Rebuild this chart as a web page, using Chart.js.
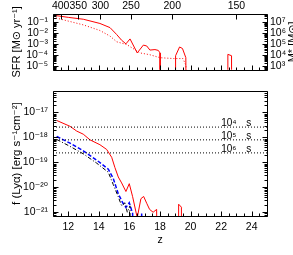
<!DOCTYPE html>
<html><head><meta charset="utf-8">
<script src="https://cdn.jsdelivr.net/npm/chart.js@4.4.1/dist/chart.umd.min.js"></script>
<style>
html,body{margin:0;padding:0;background:#fff;width:293px;height:255px;overflow:hidden}
#top{position:absolute;left:0;top:0;width:293px;height:81px}
#bot{position:absolute;left:0;top:80px;width:293px;height:175px}
</style></head><body>
<div id="top"><canvas id="c1"></canvas></div>
<div id="bot"><canvas id="c2"></canvas></div>
<script>
// ---------- data ----------
const zMin = 11, zMax = 25;
const zTickValues = [12, 14, 16, 18, 20, 22, 24];
const ageLabels = ['400', '350', '300', '250', '200', '150'];
const ageTickZ = [11.5, 12.65, 14.1, 16.1, 18.8, 23.0];
const sfrTicks = [1e-5, 1e-4, 1e-3, 1e-2, 1e-1];
const sfrTickLabels = ['10⁻⁵', '10⁻⁴', '10⁻³', '10⁻²', '10⁻¹'];
const massTicks = [1e3, 1e4, 1e5, 1e6, 1e7];
const massTickLabels = ['10³', '10⁴', '10⁵', '10⁶', '10⁷'];
const fluxTicks = [1e-21, 1e-20, 1e-19, 1e-18, 1e-17];
const fluxTickLabels = ['10⁻²¹', '10⁻²⁰', '10⁻¹⁹', '10⁻¹⁸', '10⁻¹⁷'];
const exposureLabels = ['10⁴ s', '10⁵ s', '10⁶ s'];
const fluxLimits = [2.6e-18, 8e-19, 2.4e-19];

// SFR, solid red
const zSfr   = [11.2, 12.0, 12.98, 14.07, 14.73, 15.17, 15.49, 15.77, 16.04, 16.51, 16.91, 17.13, 17.34, 17.67, 17.89, 18.0, 18.01, 18.99, 19.02, 19.28, 19.47, 19.69, 19.8, 22.42, 22.44, 22.68, 22.74];
const sfrSolid = [0.36, 0.25, 0.17, 0.071, 0.030, 0.0071, 0.0022, 0.00105, 0.0029, 0.00016, 0.00081, 0.00068, 0.00029, 0.00032, 0.00027, 0.00016, 0, 0, 9e-5, 5.5e-4, 4e-4, 6e-5, 0, 0, 1.2e-4, 9e-5, 0];
// SFR, dotted red
const zSfrDot = [11.2, 12.98, 14.07, 14.73, 15.17, 15.82, 16.7, 17.34, 18.0, 18.9, 19.5, 19.7, 19.83];
const sfrDotted = [0.22, 0.053, 0.0166, 0.0052, 0.0016, 0.00091, 1.6e-4, 1.1e-4, 6e-5, 5e-5, 5e-5, 1.2e-5, 0];
// Lya flux, solid red
const zLya = [11.24, 12.11, 12.55, 12.98, 13.42, 14.07, 14.51, 14.84, 15.05, 15.27, 15.49, 15.77, 15.99, 16.21, 16.51, 16.75, 16.93, 17.13, 17.32, 17.55, 17.78, 17.98, 19.12, 19.22, 19.4, 19.56];
const lyaRed = [4.8e-18, 2.8e-18, 1.8e-18, 1.35e-18, 8e-19, 5.1e-19, 3.3e-19, 1.6e-19, 6.2e-20, 2.6e-20, 1.5e-20, 6.8e-21, 1.4e-20, 4.2e-21, 6e-22, 3.5e-21, 4.3e-21, 2.3e-21, 1.3e-21, 1.0e-21, 1.3e-21, 0, 0, 2.1e-21, 1.6e-21, 0];
// Lya flux, black dash-dot
const zBlack = [11.24, 12.11, 12.98, 13.86, 14.62, 14.94, 15.27, 15.49, 15.71, 15.86, 16.04, 16.15];
const lyaBlack = [8.3e-19, 4.4e-19, 2.2e-19, 9.3e-20, 4e-20, 1.3e-20, 4.2e-21, 1.8e-21, 2.4e-21, 1e-21, 1.8e-21, 0];
// Lya flux, blue dashed
const zBlue = [11.24, 12.11, 12.98, 13.86, 14.62, 14.94, 15.27, 15.56, 15.77, 15.99, 16.21, 16.3, 16.7, 16.8, 16.9];
const lyaBlue = [1.1e-18, 5.9e-19, 2.9e-19, 1.23e-19, 5.3e-20, 2.3e-20, 5.5e-21, 2.4e-21, 1.55e-21, 2.4e-21, 8.9e-22, 0, 0, 9e-22, 0];

// ---------- helpers ----------
const FONT = "'Liberation Sans', Arial, 'DejaVu Sans', sans-serif";
Chart.defaults.color = '#000';
Chart.defaults.font.family = FONT;
Chart.defaults.font.size = 10;
const FLOOR = 1e-40; // zero shown below the log axis
const pts = (xs, ys) => xs.map((x, i) => ({x: x, y: ys[i] > 0 ? ys[i] : FLOOR}));

function logMinor(min, max) {
  const out = [];
  for (let d = Math.floor(Math.log10(min)); d <= Math.ceil(Math.log10(max)); d++) {
    for (let m = 1; m <= 9; m++) {
      const v = m * Math.pow(10, d);
      if (v >= min && v <= max) out.push({v: v, major: m === 1});
    }
  }
  return out;
}

const framePlugin = {
  id: 'frameTicks',
  afterDraw(chart) {
    const o = chart.options.plugins.frameTicks || {};
    const {ctx, chartArea: a, scales} = chart;
    ctx.save();
    ctx.strokeStyle = '#000';
    ctx.lineWidth = 1;
    const line = (x1, y1, x2, y2) => { ctx.beginPath(); ctx.moveTo(x1, y1); ctx.lineTo(x2, y2); ctx.stroke(); };
    const L = Math.round(a.left) + 0.5, R = Math.round(a.right) + 0.5;
    const T = Math.round(a.top) + 0.5, B = Math.round(a.bottom) + 0.5;
    line(L, T, R, T); line(L, B, R, B); line(L, T, L, B); line(R, T, R, B);
    const xs = scales.x;
    for (let v = zMin; v <= zMax + 1e-9; v += 0.5) {
      const px = Math.round(xs.getPixelForValue(v)) + 0.5;
      const len = (v % 2 === 0) ? 5 : 3;
      line(px, B, px, B - len);
      if (o.topZ) line(px, T, px, T + len);
    }
    if (o.ages) {
      ageTickZ.forEach(v => { const px = Math.round(xs.getPixelForValue(v)) + 0.5; line(px, T, px, T + 5); });
    }
    const ys = scales.y;
    logMinor(ys.min, ys.max).forEach(t => {
      const py = Math.round(ys.getPixelForValue(t.v)) + 0.5;
      const len = t.major ? 5 : 3;
      line(L, py, L + len, py);
      line(R, py, R - len, py);
    });
    ctx.restore();
  }
};

const textPlugin = {
  id: 'extraText',
  afterDraw(chart) {
    const o = chart.options.plugins.extraText || {};
    const {ctx, scales} = chart;
    ctx.save();
    ctx.fillStyle = '#000';
    ctx.font = '10px ' + FONT;
    if (o.limits) {
      ctx.textAlign = 'left';
      ctx.textBaseline = 'alphabetic';
      fluxLimits.forEach((f, i) => {
        const x = scales.x.getPixelForValue(22.0);
        const y = scales.y.getPixelForValue(f) - 1;
        const parts = exposureLabels[i].split(' ');
        ctx.fillText(parts[0], x, y);
        ctx.fillText(parts[1], x + 25, y);
      });
    }
    if (o.rightTitle) {
      const a = chart.chartArea;
      ctx.translate(296, (a.top + a.bottom) / 2);
      ctx.rotate(-Math.PI / 2);
      ctx.textAlign = 'center';
      ctx.textBaseline = 'alphabetic';
      ctx.font = '11px ' + FONT;
      ctx.fillText(o.rightTitle, 0, 0);
    }
    ctx.restore();
  }
};

const common = {
  responsive: true, maintainAspectRatio: false, animation: false,
  plugins: {legend: {display: false}, tooltip: {enabled: false}},
  elements: {point: {radius: 0}, line: {tension: 0, borderWidth: 1}}
};

// ---------- top panel ----------
new Chart(document.getElementById('c1'), {
  type: 'line',
  data: {datasets: [
    {data: pts(zSfr, sfrSolid), borderColor: 'rgb(255,0,0)', borderWidth: 1, xAxisID: 'x', yAxisID: 'y'},
    {data: pts(zSfrDot, sfrDotted), borderColor: 'rgb(255,0,0)', borderWidth: 1, borderDash: [1, 2], xAxisID: 'x', yAxisID: 'y'}
  ]},
  plugins: [framePlugin, textPlugin],
  options: Object.assign({}, common, {
    layout: {padding: {top: 0, bottom: 1, left: 0, right: 0}},
    plugins: {legend: {display: false}, tooltip: {enabled: false},
      frameTicks: {ages: true}, extraText: {rightTitle: 'M* [M⊙]'}},
    scales: {
      x: {type: 'linear', min: zMin, max: zMax, display: false},
      xTop: {type: 'linear', position: 'top', min: zMin, max: zMax,
        grid: {display: false, drawTicks: false}, border: {display: false},
        afterBuildTicks: s => { s.ticks = ageTickZ.map(v => ({value: v})); },
        ticks: {autoSkip: false, maxRotation: 0, minRotation: 0, padding: 2, font: {size: 10.5}, callback: (v, i) => ageLabels[i]},
        afterFit: s => { s.height = 14; }},
      y: {type: 'logarithmic', position: 'left', min: Math.pow(10, -5.3), max: Math.pow(10, -0.3),
        grid: {display: false, drawTicks: false}, border: {display: false},
        afterBuildTicks: s => { s.ticks = sfrTicks.map(v => ({value: v})); },
        ticks: {autoSkip: false, padding: 5, font: {size: 10.5}, callback: (v, i) => sfrTickLabels[i]},
        title: {display: true, text: 'SFR [M⊙ yr⁻¹]', font: {size: 11}, padding: {top: 10, bottom: 0}},
        afterFit: s => { s.width = 53; }},
      yR: {type: 'logarithmic', position: 'right', min: Math.pow(10, 2.7), max: Math.pow(10, 7.7),
        grid: {display: false, drawTicks: false}, border: {display: false},
        afterBuildTicks: s => { s.ticks = massTicks.map(v => ({value: v})); },
        ticks: {autoSkip: false, padding: 3, font: {size: 10.5}, callback: (v, i) => massTickLabels[i]},
        afterFit: s => { s.width = 26; }}
    }
  })
});

// ---------- bottom panel ----------
const limitSets = fluxLimits.map(f => ({
  data: [{x: zMin, y: f}, {x: zMax, y: f}], borderColor: '#000', borderWidth: 1, borderDash: [1, 2], xAxisID: 'x', yAxisID: 'y'
}));
new Chart(document.getElementById('c2'), {
  type: 'line',
  data: {datasets: limitSets.concat([
    {data: pts(zBlack, lyaBlack), borderColor: '#000', borderWidth: 1, borderDash: [4, 2, 1, 2], xAxisID: 'x', yAxisID: 'y'},
    {data: pts(zBlue, lyaBlue), borderColor: 'rgb(0,0,255)', borderWidth: 1.5, borderDash: [4, 2], xAxisID: 'x', yAxisID: 'y'},
    {data: pts(zLya, lyaRed), borderColor: 'rgb(255,0,0)', borderWidth: 1, xAxisID: 'x', yAxisID: 'y'}
  ])},
  plugins: [framePlugin, textPlugin],
  options: Object.assign({}, common, {
    layout: {padding: 0},
    plugins: {legend: {display: false}, tooltip: {enabled: false},
      frameTicks: {}, extraText: {limits: true}},
    scales: {
      x: {type: 'linear', position: 'bottom', min: zMin, max: zMax,
        grid: {display: false, drawTicks: false}, border: {display: false},
        afterBuildTicks: s => { s.ticks = zTickValues.map(v => ({value: v})); },
        ticks: {autoSkip: false, maxRotation: 0, minRotation: 0, padding: 5, font: {size: 10.5}, callback: (v, i) => String(zTickValues[i])},
        title: {display: true, text: 'z', font: {size: 10.5}, padding: {top: 0, bottom: 9}},
        afterFit: s => { s.height = 39; }},
      y: {type: 'logarithmic', position: 'left', min: Math.pow(10, -21.15), max: Math.pow(10, -16.15),
        grid: {display: false, drawTicks: false}, border: {display: false},
        afterBuildTicks: s => { s.ticks = fluxTicks.map(v => ({value: v})); },
        ticks: {autoSkip: false, padding: 5, font: {size: 10.5}, callback: (v, i) => fluxTickLabels[i]},
        title: {display: true, text: 'f (Lyα) [erg s⁻¹cm⁻²]', font: {size: 11.5}, padding: {top: 10, bottom: 0}},
        afterFit: s => { s.width = 53; }},
      yR: {type: 'logarithmic', position: 'right', min: Math.pow(10, -21.15), max: Math.pow(10, -16.15),
        grid: {display: false, drawTicks: false}, border: {display: false},
        ticks: {display: false},
        afterFit: s => { s.width = 26; }}
    }
  })
});
</script></body></html>
